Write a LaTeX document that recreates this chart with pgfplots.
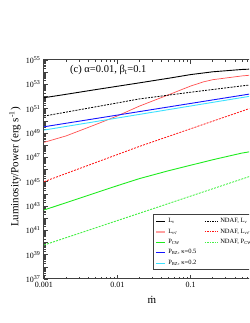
\documentclass[border=0pt]{standalone}
\usepackage{fontspec}
\setmainfont{Liberation Serif}
\usepackage{pgfplots}
\pgfplotsset{compat=1.18}
\definecolor{cRed}{RGB}{255,80,80}
\definecolor{cRedD}{RGB}{255,20,20}
\definecolor{cPink}{RGB}{255,160,160}
\definecolor{cGreen}{RGB}{30,235,30}
\definecolor{cGreenD}{RGB}{70,240,70}
\definecolor{cBlue}{RGB}{20,20,255}
\definecolor{cCyan}{RGB}{60,225,255}
\pgfplotsset{
  shortleg/.style={legend image code/.code={\draw[##1] (0pt,0pt) -- (9pt,0pt);}},
  longleg/.style={legend image code/.code={\draw[##1] (0pt,0pt) -- (13pt,0pt);}},
}
\begin{document}
\begin{tikzpicture}
\useasboundingbox (-44pt,-44pt) rectangle (205pt,279pt);
\clip (-44pt,-44pt) rectangle (205pt,279pt);
\begin{axis}[
  at={(0pt,0pt)}, anchor=south west,
  scale only axis, width=220pt, height=219pt,
  xmode=log, ymode=log,
  xmin=0.001, xmax=1, ymin=1e37, ymax=1e55,
  xtick={0.001,0.01,0.1,1}, xticklabels={0.001,0.01,0.1,1},
  ytickten={37,38,...,55},
  yticklabels={10\textsuperscript{37},{},10\textsuperscript{39},{},10\textsuperscript{41},{},10\textsuperscript{43},{},10\textsuperscript{45},{},10\textsuperscript{47},{},10\textsuperscript{49},{},10\textsuperscript{51},{},10\textsuperscript{53},{},10\textsuperscript{55}},
  tick align=inside, major tick length=4pt, minor tick length=2pt,
  axis line style={line width=1pt, black!75},
  every tick/.style={black!75, line width=0.6pt},
  tick label style={font=\fontsize{8}{8}\selectfont},
  xlabel={ṁ}, ylabel={Luminosity/Power (erg s\textsuperscript{-1})},
  label style={font=\fontsize{11}{11}\selectfont},
  xlabel style={at={(axis description cs:0.49,-0.096)}, anchor=center},
  ylabel style={at={(axis description cs:-0.132,0.511)}, anchor=center},
  legend columns=2,
  legend cell align=left,
  legend style={at={(axis description cs:0.4955,0.297)}, anchor=north west,
    draw=black!75, line width=0.9pt, font=\fontsize{6.5}{7}\selectfont,
    inner sep=2pt, row sep=0.6pt,
    /tikz/every even column/.append style={column sep=6pt}},
]
% L_nu
\addplot[black, line width=0.9pt, forget plot] coordinates {
(0.001,7.94e51) (0.002,1.51e52) (0.005,3.63e52) (0.01,6.92e52) (0.02,1.32e53)
(0.05,3.16e53) (0.1,6.31e53) (0.2,1.07e54) (0.5,1.66e54) (1,2.0e54)};
% L_nunubar
\addplot[cRed, line width=0.7pt, forget plot] coordinates {
(0.001,1.70e48) (0.002,5.75e48) (0.005,4.79e49) (0.01,2.51e50) (0.02,1.62e51)
(0.05,1.38e52) (0.1,7.24e52) (0.15,1.6e53) (0.2,2.40e53) (0.5,4.90e53) (1,7.08e53)};
% P_CW
\addplot[cGreen, line width=0.9pt, forget plot] coordinates {
(0.001,4.68e42) (0.002,1.86e43) (0.005,1.17e44) (0.01,4.68e44) (0.02,1.78e45)
(0.05,7.94e45) (0.1,2.24e46) (0.2,6.31e46) (0.5,2.24e47) (1,4.47e47)};
% P_BZ 0.5
\addplot[cBlue, line width=0.9pt, forget plot] coordinates {(0.001,3.24e49) (1,2.45e52)};
% P_BZ 0.2
\addplot[cCyan, line width=0.9pt, forget plot] coordinates {(0.001,1.74e49) (1,1.62e52)};
% NDAF L_nu
\addplot[black, line width=0.8pt, dash pattern=on 2pt off 1.2pt, forget plot] coordinates {
(0.001,2.45e50) (0.01,2.95e51) (0.02,6.31e51) (0.1,2.24e52) (0.5,7.41e52) (1,1.20e53)};
% NDAF L_nunubar
\addplot[cRedD, line width=0.8pt, dash pattern=on 2pt off 1.2pt, forget plot] coordinates {
(0.001,1.0e45) (0.02,7.9e47) (1,2.63e51)};
% NDAF P_CW
\addplot[cGreenD, line width=0.9pt, dash pattern=on 2pt off 1.2pt, forget plot] coordinates {
(0.001,6.17e39) (1,6.61e45)};

\addlegendimage{black, line width=0.8pt, shortleg}
\addlegendentry{L\textsubscript{ν}}
\addlegendimage{black, line width=0.7pt, dash pattern=on 1.5pt off 1pt, longleg}
\addlegendentry{NDAF, L\textsubscript{ν}}
\addlegendimage{cPink, line width=1.8pt, shortleg}
\addlegendentry{L\textsubscript{νν̄}}
\addlegendimage{cRedD, line width=0.7pt, dash pattern=on 1.5pt off 1pt, longleg}
\addlegendentry{NDAF, L\textsubscript{νν̄}}
\addlegendimage{cGreen, line width=0.8pt, shortleg}
\addlegendentry{P\textsubscript{CW}}
\addlegendimage{cGreenD, line width=0.8pt, dash pattern=on 1.5pt off 1pt, longleg}
\addlegendentry{NDAF, P\textsubscript{CW}}
\addlegendimage{cBlue, line width=0.8pt, shortleg}
\addlegendentry{P\textsubscript{BZ}, κ=0.5}
\addlegendimage{empty legend}
\addlegendentry{}
\addlegendimage{cCyan, line width=0.8pt, shortleg}
\addlegendentry{P\textsubscript{BZ}, κ=0.2}
\addlegendimage{empty legend}
\addlegendentry{}

\node[anchor=base west, font=\fontsize{10.5}{10.5}\selectfont] at (axis description cs:0.103,0.941) {(c) α=0.01, β\textsubscript{t}=0.1};
\end{axis}
\end{tikzpicture}
\end{document}
